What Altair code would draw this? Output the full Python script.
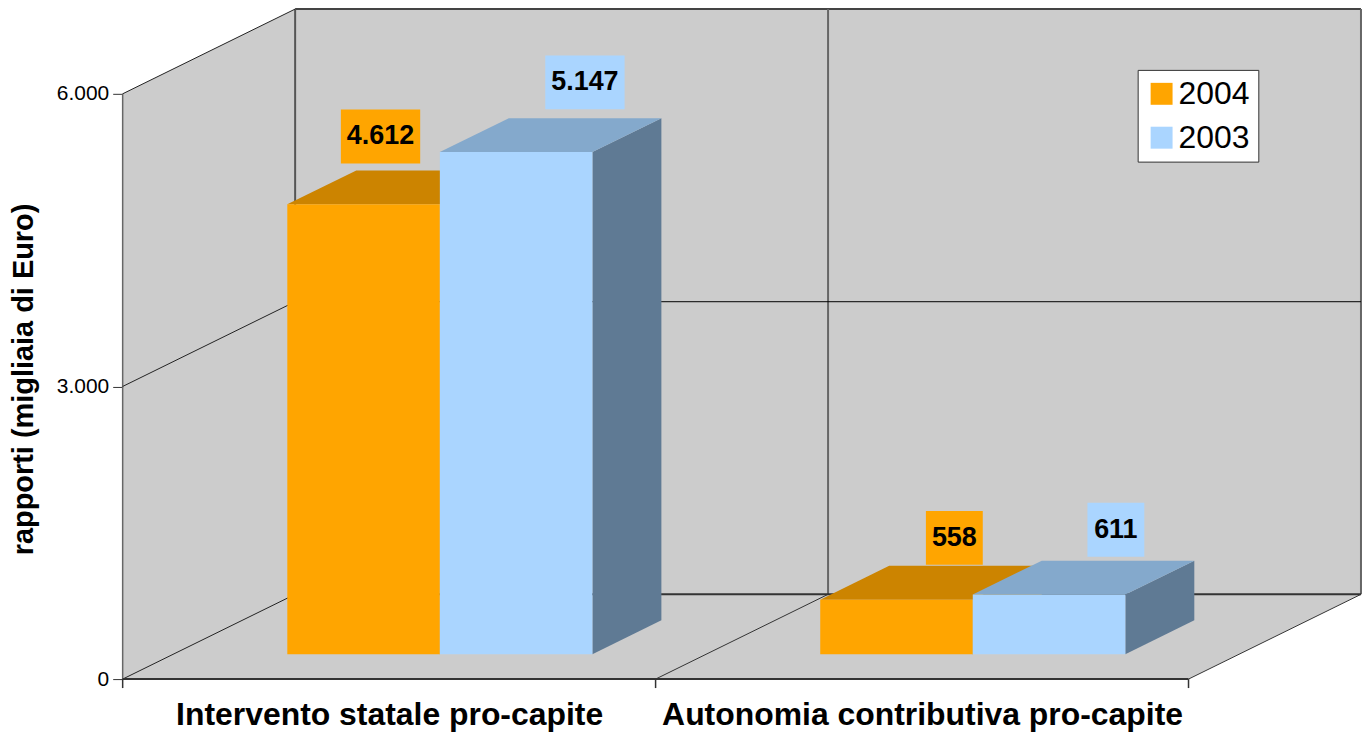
import json
import altair as alt
import pandas as pd

# ---------------- data ----------------
categories = ["Intervento statale pro-capite", "Autonomia contributiva pro-capite"]
series = ["2004", "2003"]
values_2004 = [4612, 558]
values_2003 = [5147, 611]
y_ticks = [0, 3000, 6000]

# ---------------- layout / style ----------------
FONT = "Liberation Sans"
W, H = 1242, 672
PAD = {"left": 115, "top": 0, "right": 3, "bottom": 54}
CAT_PX = 534.5            # pixels per category on the front plane
PX_PER_V = 587 / 6000     # pixels per data unit
OBL = 2.035               # oblique direction (x px per depth px)
DEPTH = 85                # floor depth (vertical px)
Z1, Z2 = 25, 59           # bar front / back depth (vertical px)
BAR_PX = 153              # bar width in px

front_colors = ["#FFA500", "#AAD5FF"]
top_colors = ["#CC8400", "#84A9CC"]
side_colors = ["#996300", "#5F7A94"]
label_nudge = [(17, -68), (69, -70), (58, -62), (67, -65)]  # px offsets of value labels

XMAX = W / CAT_PX
YMAX = H / PX_PER_V


def du(px):
    return px / CAT_PX


def dv(px):
    return px / PX_PER_V


D_U = du(DEPTH * OBL)
D_V = dv(DEPTH)
a1, a2 = du(Z1 * OBL), du(Z2 * OBL)
c1, c2 = dv(Z1), dv(Z2)
bw = du(BAR_PX)
n = len(categories)

xs = alt.Scale(domain=[0, XMAX], nice=False, zero=False)
ys = alt.Scale(domain=[0, YMAX], nice=False, zero=False)

x_axis = alt.Axis(
    values=[i + 0.5 for i in range(n)],
    labelExpr=json.dumps(categories) + "[floor(datum.value)]",
    title=None, ticks=False, tickSize=0, domain=False, grid=False,
    labelFont=FONT, labelFontSize=32, labelFontWeight="bold", labelColor="black",
    labelPadding=21, labelOverlap=False, labelFlush=False, labelBound=False, labelLimit=0,
)
y_axis = alt.Axis(
    values=y_ticks, title="rapporti (migliaia di Euro)",
    titleFont=FONT, titleFontSize=29, titleFontWeight="bold", titleColor="black",
    titleX=-99, titleY=371, titleAngle=270, titleBaseline="middle", titleAlign="center",
    labelExpr="replace(format(datum.value, ',.0f'), ',', '.')",
    labelFont=FONT, labelFontSize=21, labelColor="black", labelPadding=4,
    tickSize=10, tickColor="#333333", tickWidth=1, domain=False, grid=False,
)


def X(f="x"):
    return alt.X(f"{f}:Q", scale=xs, axis=x_axis)


def Y(f="y"):
    return alt.Y(f"{f}:Q", scale=ys, axis=y_axis)


# ---------------- background (walls + floor) ----------------
wall_top = y_ticks[-1] + D_V
bg = pd.DataFrame({
    "x": [0, D_U, n, n + D_U],
    "y": [0, 0, 0, D_V],
    "y2": [y_ticks[-1], wall_top, wall_top, wall_top],
})
bg_layer = alt.Chart(bg).mark_area(color="#CCCCCC", interpolate="linear", opacity=1).encode(
    x=X(), y=Y(), y2="y2:Q"
)

# ---------------- frame & grid lines ----------------
seg = []


def add(x1, y1, x2, y2, c, w):
    seg.append({"x": x1, "y": y1, "x2": x2, "y2": y2, "c": c, "w": w})


add(D_U, wall_top, n + D_U, wall_top, "#444444", 2)          # top of back wall
add(n + D_U, D_V, n + D_U, wall_top, "#666666", 2)          # right edge
for i in range(n):                                           # back wall verticals
    add(i + D_U, D_V, i + D_U, wall_top, "#555555" if i == 0 else "#666666", 2)
for t in y_ticks[1:-1]:                                      # back wall gridlines
    add(D_U, t + D_V, n + D_U, t + D_V, "#000000", 1)
add(D_U, D_V, n + D_U, D_V, "#333333", 2)                    # floor back edge
add(0, 0, 0, y_ticks[-1], "#666666", 1.5)                    # left wall front edge
for t in y_ticks:                                            # left wall diagonals
    add(0, t, D_U, t + D_V, "#222222", 1)
for i in range(1, n + 1):                                    # floor diagonals
    add(i, 0, i + D_U, D_V, "#333333", 1)
add(0, 0, n, 0, "#333333", 2)                                # floor front edge
for i in range(n + 1):                                       # category ticks
    add(i, 0, i, -dv(9), "#333333", 1.5)

lines_layer = alt.Chart(pd.DataFrame(seg)).mark_rule().encode(
    x=X(), y=Y(), x2="x2:Q", y2="y2:Q",
    color=alt.Color("c:N", scale=None), size=alt.Size("w:Q", scale=None),
)

# ---------------- bars ----------------
vals = [values_2004, values_2003]
bar_layers = []

for s, name in enumerate(series):
    fronts, tops, sides = [], [], []
    for i in range(n):
        v = vals[s][i]
        ul = i + 0.5 - bw + s * bw
        ur = ul + bw
        bid = f"{name}-{i}"
        fronts.append({"x": ul + a1, "x2": ur + a1, "y": c1, "y2": v + c1, "series": name})
        tops += [
            {"id": bid, "x": ul + a1, "y": v + c1, "y2": v + c1},
            {"id": bid, "x": ul + a2, "y": v + c1, "y2": v + c2},
            {"id": bid, "x": ur + a1, "y": v + c1, "y2": v + c2},
            {"id": bid, "x": ur + a2, "y": v + c2, "y2": v + c2},
        ]
        sides += [
            {"id": bid, "x": ur + a1, "y": c1, "y2": v + c1},
            {"id": bid, "x": ur + a2, "y": c2, "y2": v + c2},
        ]
    bar_layers.append(
        alt.Chart(pd.DataFrame(sides)).mark_area(color=side_colors[s], interpolate="linear", opacity=1)
        .encode(x=X(), y=Y(), y2="y2:Q", detail="id:N")
    )
    bar_layers.append(
        alt.Chart(pd.DataFrame(tops)).mark_area(color=top_colors[s], interpolate="linear", opacity=1)
        .encode(x=X(), y=Y(), y2="y2:Q", detail="id:N")
    )
    bar_layers.append(
        alt.Chart(pd.DataFrame(fronts)).mark_rect(opacity=1).encode(
            x=X(), x2="x2:Q", y=Y(), y2="y2:Q",
            color=alt.Color(
                "series:N",
                scale=alt.Scale(domain=series, range=front_colors),
                legend=alt.Legend(
                    title=None, orient="none", legendX=1018, legendY=61, direction="vertical",
                    symbolType="square", symbolSize=484, symbolStrokeWidth=0, symbolOpacity=1,
                    labelFont=FONT, labelFontSize=32, labelColor="black", labelOffset=1,
                    rowPadding=12, padding=8, fillColor="white", strokeColor="#333333",
                ),
            ),
        )
    )

# ---------------- value labels ----------------
lab_rows = []
j = 0
for i in range(n):
    for s, name in enumerate(series):
        v = vals[s][i]
        ul = i + 0.5 - bw + s * bw
        cx_u = ul + bw / 2 + a1
        ndx, ndy = label_nudge[j]
        j += 1
        txt = f"{v:,}".replace(",", ".")
        digits = sum(ch.isdigit() for ch in txt)
        dots = len(txt) - digits
        wpx = 27 * (0.556 * digits + 0.278 * dots) + 12
        cx = cx_u + du(ndx)
        cy = v + dv(Z1 - ndy)
        lab_rows.append({
            "x": cx, "y": cy, "bx": cx - du(wpx / 2), "bx2": cx + du(wpx / 2),
            "by": cy - dv(27), "by2": cy + dv(27), "t": txt, "bg": front_colors[s],
        })
lab = pd.DataFrame(lab_rows)
box_layer = alt.Chart(lab).mark_rect(opacity=1).encode(
    x=X("bx"), x2="bx2:Q", y=Y("by"), y2="by2:Q", color=alt.Color("bg:N", scale=None)
)
text_layer = alt.Chart(lab).mark_text(
    font=FONT, fontSize=27, fontWeight="bold", color="black", align="center", baseline="middle"
).encode(x=X(), y=Y(), text="t:N")

chart = alt.layer(bg_layer, lines_layer, *bar_layers, box_layer, text_layer).properties(
    width=W, height=H, padding=PAD, autosize=alt.AutoSizeParams(type="none"),
    background="white",
).configure_view(stroke=None)

chart.save("out.html", embed_options={"renderer": "svg", "actions": False})
